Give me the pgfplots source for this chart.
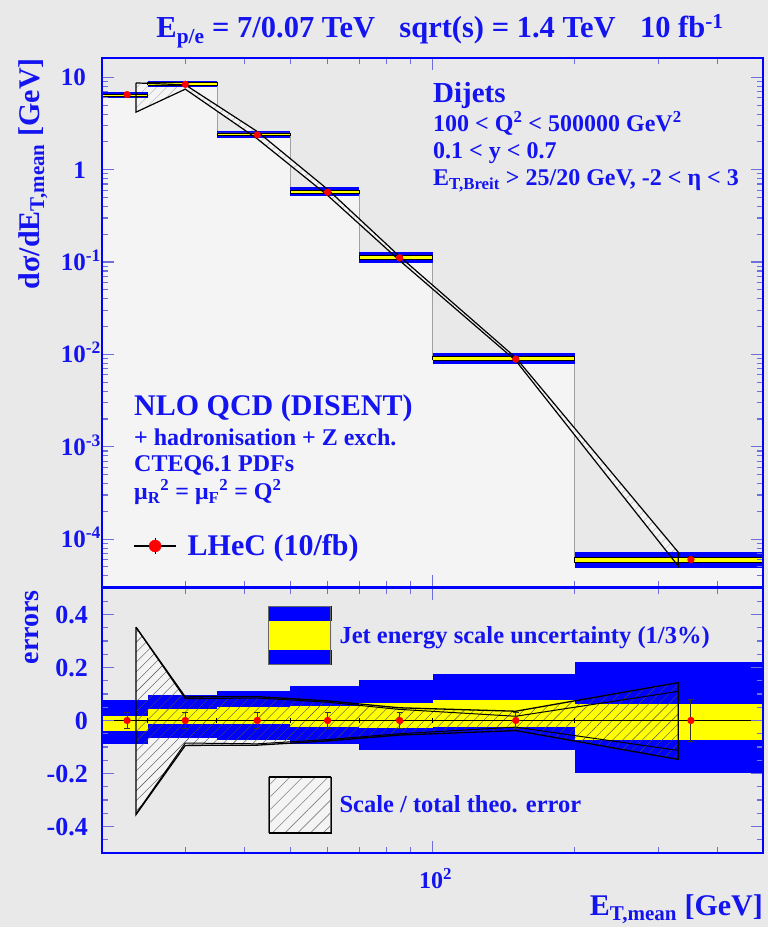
\documentclass[border=0pt]{standalone}
\usepackage{fontspec}
\setmainfont{Liberation Serif}
\usepackage{pgfplots}
\pgfplotsset{compat=1.18}
\usetikzlibrary{patterns.meta}
\definecolor{bg}{RGB}{233,233,233}
\definecolor{hfill}{RGB}{244,244,244}
\definecolor{rblue}{RGB}{0,0,255}
\definecolor{tblue}{RGB}{20,20,240}
\definecolor{ryel}{RGB}{255,255,0}
\definecolor{hgray}{RGB}{160,160,160}
\newcommand\fs[1]{\fontsize{#1bp}{#1bp}\selectfont\bfseries}
\newcommand\band[5]{\addplot[fill=#5,draw=none,forget plot] coordinates {(#1,#3) (#2,#3) (#2,#4) (#1,#4)};}
\newcommand\bandk[4]{\addplot[fill=ryel,draw=black,line width=0.7bp,forget plot] coordinates {(#1,#3) (#2,#3) (#2,#4) (#1,#4) (#1,#3)};}
\begin{document}
\begin{tikzpicture}
\fill[bg] (0,0) rectangle (768bp,927bp);
% ---------------- top panel
\begin{axis}[scale only axis, width=661bp, height=529bp, at={(102bp,340bp)}, anchor=south west,
  xmode=log, ymode=log, xmin=20, xmax=500, ymin=3.03e-5, ymax=16.2,
  axis on top,
  axis line style={draw=rblue,line width=1.5bp},
  tick align=inside, major tick length=12bp, minor tick length=6bp,
  tick style={draw={rgb,255:red,110;green,110;blue,220},line width=1bp},
  xtick={100}, minor xtick={30,40,50,60,70,80,90,200,300,400},
  xticklabel=\empty,
  ytick={1e-4,1e-3,1e-2,1e-1,1,10},
  yticklabels={10\rlap{\textsuperscript{-4}},10\rlap{\textsuperscript{-3}},10\rlap{\textsuperscript{-2}},10\rlap{\textsuperscript{-1}},1,10},
  minor ytick={4e-5,5e-5,6e-5,7e-5,8e-5,9e-5,2e-4,3e-4,4e-4,5e-4,6e-4,7e-4,8e-4,9e-4,2e-3,3e-3,4e-3,5e-3,6e-3,7e-3,8e-3,9e-3,0.02,0.03,0.04,0.05,0.06,0.07,0.08,0.09,0.2,0.3,0.4,0.5,0.6,0.7,0.8,0.9,2,3,4,5,6,7,8,9},
  yticklabel style={font=\fs{25}, text=tblue, anchor=base east, inner sep=0pt, xshift=-16bp, yshift=-8.5bp},
  legend style={at={(0.0474,0.0775)}, anchor=west, draw=none, fill=none, inner sep=0pt, font=\fs{30}, text=tblue, cells={anchor=west}, /tikz/every odd column/.append style={column sep=9bp}},
  legend cell align=left]
% histogram
\addplot[fill=hfill, draw=hgray, line width=0.8bp, forget plot] coordinates {(20,3.03e-5) (20,6.5) (25,6.5) (25,8.4) (35,8.4) (35,2.38) (50,2.38) (50,0.571) (70,0.571) (70,0.111) (100,0.111) (100,0.0089) (200,0.0089) (200,6e-5) (500,6e-5) (500,3.03e-5)};
% theory band
\addplot[fill=hfill, draw=none, forget plot] coordinates {(23.6,8.7) (30,8.3) (42.6,2.59) (60,0.613) (85,0.1163) (150,0.00921) (331,7.2e-5) (331,5.1e-5) (150,0.00856) (85,0.1049) (60,0.527) (42.6,2.16) (30,7.45) (23.6,4.2)};
\addplot[pattern={Lines[angle=45,distance=7bp,line width=0.4bp]}, pattern color=gray!60, draw=none, forget plot] coordinates {(23.6,8.7) (30,8.3) (42.6,2.59) (60,0.613) (85,0.1163) (150,0.00921) (331,7.2e-5) (331,5.1e-5) (150,0.00856) (85,0.1049) (60,0.527) (42.6,2.16) (30,7.45) (23.6,4.2)};
% JES bands
\band{20}{25}{5.93}{7.0}{rblue}
\band{25}{35}{7.85}{9.22}{rblue}
\band{35}{50}{2.21}{2.65}{rblue}
\band{50}{70}{0.521}{0.646}{rblue}
\band{70}{100}{0.0988}{0.1279}{rblue}
\band{100}{200}{0.0079}{0.01048}{rblue}
\band{200}{500}{4.81e-5}{7.33e-5}{rblue}
\bandk{20}{25}{6.24}{6.60}
\bandk{25}{35}{8.29}{8.78}
\bandk{35}{50}{2.35}{2.50}
\bandk{50}{70}{0.557}{0.602}
\bandk{70}{100}{0.1079}{0.1183}
\bandk{100}{200}{0.00868}{0.00959}
\bandk{200}{500}{5.56e-5}{6.38e-5}
% theory lines
\addplot[black, line width=1.2bp, forget plot] coordinates {(23.6,8.7) (30,8.3) (42.6,2.59) (60,0.613) (85,0.1163) (150,0.00921) (331,7.2e-5) (331,5.1e-5) (150,0.00856) (85,0.1049) (60,0.527) (42.6,2.16) (30,7.45) (23.6,4.2) (23.6,8.7)};
% axis ticks (drawn as short segments)
\addplot[draw={rgb,255:red,110;green,110;blue,220}, line width=1.1bp, unbounded coords=jump, forget plot] coordinates {
(30,16.2) (30,13.95) (30,nan) (40,16.2) (40,13.95) (40,nan) (50,16.2) (50,13.95) (50,nan) (60,16.2) (60,13.95) (60,nan) (70,16.2) (70,13.95) (70,nan) (80,16.2) (80,13.95) (80,nan) (90,16.2) (90,13.95) (90,nan) (200,16.2) (200,13.95) (200,nan) (300,16.2) (300,13.95) (300,nan) (400,16.2) (400,13.95) (400,nan) (100,16.2) (100,12.01) (100,nan)
(30,3.03e-5) (30,3.518e-5) (30,nan) (40,3.03e-5) (40,3.518e-5) (40,nan) (50,3.03e-5) (50,3.518e-5) (50,nan) (60,3.03e-5) (60,3.518e-5) (60,nan) (70,3.03e-5) (70,3.518e-5) (70,nan) (80,3.03e-5) (80,3.518e-5) (80,nan) (90,3.03e-5) (90,3.518e-5) (90,nan) (200,3.03e-5) (200,3.518e-5) (200,nan) (300,3.03e-5) (300,3.518e-5) (300,nan) (400,3.03e-5) (400,3.518e-5) (400,nan) (100,3.03e-5) (100,4.086e-5) (100,nan)
(20,1e-4) (21.21,1e-4) (20,nan) (20,1e-3) (21.21,1e-3) (20,nan) (20,0.01) (21.21,0.01) (20,nan) (20,0.1) (21.21,0.1) (20,nan) (20,1) (21.21,1) (20,nan) (20,10) (21.21,10) (20,nan)
(500,1e-4) (471.6,1e-4) (500,nan) (500,1e-3) (471.6,1e-3) (500,nan) (500,0.01) (471.6,0.01) (500,nan) (500,0.1) (471.6,0.1) (500,nan) (500,1) (471.6,1) (500,nan) (500,10) (471.6,10) (500,nan)
(20,4e-5) (20.59,4e-5) (20,nan) (20,5e-5) (20.59,5e-5) (20,nan) (20,6e-5) (20.59,6e-5) (20,nan) (20,7e-5) (20.59,7e-5) (20,nan) (20,8e-5) (20.59,8e-5) (20,nan) (20,9e-5) (20.59,9e-5) (20,nan)
(20,2e-4) (20.59,2e-4) (20,nan) (20,3e-4) (20.59,3e-4) (20,nan) (20,4e-4) (20.59,4e-4) (20,nan) (20,5e-4) (20.59,5e-4) (20,nan) (20,6e-4) (20.59,6e-4) (20,nan) (20,7e-4) (20.59,7e-4) (20,nan) (20,8e-4) (20.59,8e-4) (20,nan) (20,9e-4) (20.59,9e-4) (20,nan)
(20,2e-3) (20.59,2e-3) (20,nan) (20,3e-3) (20.59,3e-3) (20,nan) (20,4e-3) (20.59,4e-3) (20,nan) (20,5e-3) (20.59,5e-3) (20,nan) (20,6e-3) (20.59,6e-3) (20,nan) (20,7e-3) (20.59,7e-3) (20,nan) (20,8e-3) (20.59,8e-3) (20,nan) (20,9e-3) (20.59,9e-3) (20,nan)
(20,0.02) (20.59,0.02) (20,nan) (20,0.03) (20.59,0.03) (20,nan) (20,0.04) (20.59,0.04) (20,nan) (20,0.05) (20.59,0.05) (20,nan) (20,0.06) (20.59,0.06) (20,nan) (20,0.07) (20.59,0.07) (20,nan) (20,0.08) (20.59,0.08) (20,nan) (20,0.09) (20.59,0.09) (20,nan)
(20,0.2) (20.59,0.2) (20,nan) (20,0.3) (20.59,0.3) (20,nan) (20,0.4) (20.59,0.4) (20,nan) (20,0.5) (20.59,0.5) (20,nan) (20,0.6) (20.59,0.6) (20,nan) (20,0.7) (20.59,0.7) (20,nan) (20,0.8) (20.59,0.8) (20,nan) (20,0.9) (20.59,0.9) (20,nan)
(20,2) (20.59,2) (20,nan) (20,3) (20.59,3) (20,nan) (20,4) (20.59,4) (20,nan) (20,5) (20.59,5) (20,nan) (20,6) (20.59,6) (20,nan) (20,7) (20.59,7) (20,nan) (20,8) (20.59,8) (20,nan) (20,9) (20.59,9) (20,nan)
(500,4e-5) (485.6,4e-5) (500,nan) (500,5e-5) (485.6,5e-5) (500,nan) (500,6e-5) (485.6,6e-5) (500,nan) (500,7e-5) (485.6,7e-5) (500,nan) (500,8e-5) (485.6,8e-5) (500,nan) (500,9e-5) (485.6,9e-5) (500,nan)
(500,2e-4) (485.6,2e-4) (500,nan) (500,3e-4) (485.6,3e-4) (500,nan) (500,4e-4) (485.6,4e-4) (500,nan) (500,5e-4) (485.6,5e-4) (500,nan) (500,6e-4) (485.6,6e-4) (500,nan) (500,7e-4) (485.6,7e-4) (500,nan) (500,8e-4) (485.6,8e-4) (500,nan) (500,9e-4) (485.6,9e-4) (500,nan)
(500,2e-3) (485.6,2e-3) (500,nan) (500,3e-3) (485.6,3e-3) (500,nan) (500,4e-3) (485.6,4e-3) (500,nan) (500,5e-3) (485.6,5e-3) (500,nan) (500,6e-3) (485.6,6e-3) (500,nan) (500,7e-3) (485.6,7e-3) (500,nan) (500,8e-3) (485.6,8e-3) (500,nan) (500,9e-3) (485.6,9e-3) (500,nan)
(500,0.02) (485.6,0.02) (500,nan) (500,0.03) (485.6,0.03) (500,nan) (500,0.04) (485.6,0.04) (500,nan) (500,0.05) (485.6,0.05) (500,nan) (500,0.06) (485.6,0.06) (500,nan) (500,0.07) (485.6,0.07) (500,nan) (500,0.08) (485.6,0.08) (500,nan) (500,0.09) (485.6,0.09) (500,nan)
(500,0.2) (485.6,0.2) (500,nan) (500,0.3) (485.6,0.3) (500,nan) (500,0.4) (485.6,0.4) (500,nan) (500,0.5) (485.6,0.5) (500,nan) (500,0.6) (485.6,0.6) (500,nan) (500,0.7) (485.6,0.7) (500,nan) (500,0.8) (485.6,0.8) (500,nan) (500,0.9) (485.6,0.9) (500,nan)
(500,2) (485.6,2) (500,nan) (500,3) (485.6,3) (500,nan) (500,4) (485.6,4) (500,nan) (500,5) (485.6,5) (500,nan) (500,6) (485.6,6) (500,nan) (500,7) (485.6,7) (500,nan) (500,8) (485.6,8) (500,nan) (500,9) (485.6,9)};
% data
\addplot[only marks, mark=*, mark size=3.4bp, mark options={fill=red, draw=red},
  legend image code/.code={\draw[black,line width=1.2bp] (0bp,0bp)--(42bp,0bp); \draw[black,line width=1.2bp] (21bp,-8bp)--(21bp,8bp); \fill[red] (21bp,0bp) circle (6bp);},
  error bars/.cd, y dir=both, y explicit, error bar style={black,line width=1bp}, error mark options={rotate=90,black,mark size=3bp,line width=1bp}]
  coordinates {(22.6,6.5) +- (0,0.195) (30,8.4) +- (0,0.25) (42.6,2.38) +- (0,0.071) (60,0.571) +- (0,0.017) (85.2,0.111) +- (0,0.0033) (150,0.0089) +- (0,0.00027) (352,6e-5) +- (0,4.7e-6)};
\addlegendentry{LHeC (10/fb)}
\end{axis}
% ---------------- bottom panel
\begin{axis}[scale only axis, width=661bp, height=265bp, at={(102bp,74bp)}, anchor=south west,
  xmode=log, xmin=20, xmax=500, ymin=-0.5, ymax=0.5,
  axis on top,
  axis line style={draw=rblue,line width=1.5bp},
  tick align=inside, major tick length=12bp, minor tick length=6bp,
  tick style={draw={rgb,255:red,110;green,110;blue,220},line width=1bp},
  xtick={100}, minor xtick={30,40,50,60,70,80,90,200,300,400},
  xticklabels={10\textsuperscript{2}},
  xticklabel style={font=\fs{24}, text=tblue, anchor=base, inner sep=0pt, yshift=-35bp, xshift=3bp},
  ytick={-0.4,-0.2,0,0.2,0.4}, yticklabels={-0.4,-0.2,0,0.2,0.4},
  minor ytick={-0.45,-0.35,-0.3,-0.25,-0.15,-0.1,-0.05,0.05,0.1,0.15,0.25,0.3,0.35,0.45},
  yticklabel style={font=\fs{26}, text=tblue, anchor=base east, inner sep=0pt, xshift=-14bp, yshift=-9bp},
  legend style={at={(0.2507,0.9332)}, anchor=north west, draw=none, fill=none, inner sep=0pt, font=\fs{24.5}, text=tblue, row sep=111bp, cells={anchor=west}, /tikz/every odd column/.append style={column sep=6bp}},
  legend cell align=left]
\addplot[fill=hfill, draw=none, forget plot] coordinates {(23.6,0.352) (30,0.089) (42.6,0.090) (60,0.074) (85,0.048) (150,0.035) (331,0.143) (331,-0.147) (150,-0.038) (85,-0.055) (60,-0.077) (42.6,-0.093) (30,-0.094) (23.6,-0.355)};
\band{20}{25}{-0.087}{0.077}{rblue}
\band{25}{35}{-0.066}{0.098}{rblue}
\band{35}{50}{-0.072}{0.113}{rblue}
\band{50}{70}{-0.087}{0.132}{rblue}
\band{70}{100}{-0.110}{0.152}{rblue}
\band{100}{200}{-0.112}{0.177}{rblue}
\band{200}{500}{-0.198}{0.221}{rblue}
\band{20}{25}{-0.040}{0.016}{ryel}
\band{25}{35}{-0.013}{0.045}{ryel}
\band{35}{50}{-0.013}{0.050}{ryel}
\band{50}{70}{-0.024}{0.054}{ryel}
\band{70}{100}{-0.028}{0.066}{ryel}
\band{100}{200}{-0.025}{0.077}{ryel}
\band{200}{500}{-0.074}{0.063}{ryel}
\addplot[pattern={Lines[angle=45,distance=7bp,line width=0.4bp]}, pattern color=black!70, fill opacity=0.3, draw=none, forget plot] coordinates {(23.6,0.352) (30,0.089) (42.6,0.090) (60,0.074) (85,0.048) (150,0.035) (331,0.143) (331,-0.147) (150,-0.038) (85,-0.055) (60,-0.077) (42.6,-0.093) (30,-0.094) (23.6,-0.355)};
\addplot[black, line width=1.3bp, forget plot] coordinates {(23.6,0.352) (30,0.089) (42.6,0.090) (60,0.074) (85,0.048) (150,0.035) (331,0.143) (331,-0.147) (150,-0.038) (85,-0.055) (60,-0.077) (42.6,-0.093) (30,-0.094) (23.6,-0.355) (23.6,0.352)};
\addplot[black, line width=1bp, forget plot] coordinates {(23.6,0.352) (30,0.082) (42.6,0.085) (60,0.069) (85,0.042) (150,0.016) (331,0.110)};
\addplot[black, line width=1bp, forget plot] coordinates {(23.6,-0.352) (30,-0.085) (42.6,-0.088) (60,-0.072) (85,-0.050) (150,-0.025) (331,-0.113)};
\addplot[black, line width=1bp, forget plot] coordinates {(20,0) (500,0)};
\addplot[ycomb, black, line width=1bp, forget plot] coordinates {(25,0.01) (35,0.01) (50,0.01) (70,0.01) (100,0.01) (200,0.01)};
\addplot[ycomb, black, line width=1bp, forget plot] coordinates {(25,-0.01) (35,-0.01) (50,-0.01) (70,-0.01) (100,-0.01) (200,-0.01)};
\addplot[only marks, mark=*, mark size=3.4bp, mark options={fill=red, draw=red}, forget plot,
  error bars/.cd, y dir=both, y explicit, error bar style={black!80,line width=1bp}, error mark options={rotate=90,black!80,mark size=3bp,line width=1bp}]
  coordinates {(22.6,0) +- (0,0.03) (30,0) +- (0,0.03) (42.6,0) +- (0,0.03) (60,0) +- (0,0.03) (85.2,0) +- (0,0.03) (150,0) +- (0,0.032) (352,0) +- (0,0.078)};
% axis ticks (drawn as short segments)
\addplot[draw={rgb,255:red,110;green,110;blue,220}, line width=1.1bp, unbounded coords=jump, forget plot] coordinates {
(30,0.5) (30,0.4774) (30,nan) (40,0.5) (40,0.4774) (40,nan) (50,0.5) (50,0.4774) (50,nan) (60,0.5) (60,0.4774) (60,nan) (70,0.5) (70,0.4774) (70,nan) (80,0.5) (80,0.4774) (80,nan) (90,0.5) (90,0.4774) (90,nan) (200,0.5) (200,0.4774) (200,nan) (300,0.5) (300,0.4774) (300,nan) (400,0.5) (400,0.4774) (400,nan) (100,0.5) (100,0.4547) (100,nan)
(30,-0.5) (30,-0.4774) (30,nan) (40,-0.5) (40,-0.4774) (40,nan) (50,-0.5) (50,-0.4774) (50,nan) (60,-0.5) (60,-0.4774) (60,nan) (70,-0.5) (70,-0.4774) (70,nan) (80,-0.5) (80,-0.4774) (80,nan) (90,-0.5) (90,-0.4774) (90,nan) (200,-0.5) (200,-0.4774) (200,nan) (300,-0.5) (300,-0.4774) (300,nan) (400,-0.5) (400,-0.4774) (400,nan) (100,-0.5) (100,-0.4547) (100,nan)
(20,-0.4) (21.21,-0.4) (20,nan) (20,-0.2) (21.21,-0.2) (20,nan) (20,0) (21.21,0) (20,nan) (20,0.2) (21.21,0.2) (20,nan) (20,0.4) (21.21,0.4) (20,nan)
(500,-0.4) (471.6,-0.4) (500,nan) (500,-0.2) (471.6,-0.2) (500,nan) (500,0) (471.6,0) (500,nan) (500,0.2) (471.6,0.2) (500,nan) (500,0.4) (471.6,0.4) (500,nan)
(20,-0.45) (20.59,-0.45) (20,nan) (20,-0.35) (20.59,-0.35) (20,nan) (20,-0.3) (20.59,-0.3) (20,nan) (20,-0.25) (20.59,-0.25) (20,nan) (20,-0.15) (20.59,-0.15) (20,nan) (20,-0.1) (20.59,-0.1) (20,nan) (20,-0.05) (20.59,-0.05) (20,nan)
(20,0.05) (20.59,0.05) (20,nan) (20,0.1) (20.59,0.1) (20,nan) (20,0.15) (20.59,0.15) (20,nan) (20,0.25) (20.59,0.25) (20,nan) (20,0.3) (20.59,0.3) (20,nan) (20,0.35) (20.59,0.35) (20,nan) (20,0.45) (20.59,0.45) (20,nan)
(500,-0.45) (485.6,-0.45) (500,nan) (500,-0.35) (485.6,-0.35) (500,nan) (500,-0.3) (485.6,-0.3) (500,nan) (500,-0.25) (485.6,-0.25) (500,nan) (500,-0.15) (485.6,-0.15) (500,nan) (500,-0.1) (485.6,-0.1) (500,nan) (500,-0.05) (485.6,-0.05) (500,nan)
(500,0.05) (485.6,0.05) (500,nan) (500,0.1) (485.6,0.1) (500,nan) (500,0.15) (485.6,0.15) (500,nan) (500,0.25) (485.6,0.25) (500,nan) (500,0.3) (485.6,0.3) (500,nan) (500,0.35) (485.6,0.35) (500,nan) (500,0.45) (485.6,0.45)};
\addlegendimage{legend image code/.code={\fill[rblue] (0bp,-29bp) rectangle (62bp,29bp); \fill[ryel] (0bp,-14.2bp) rectangle (62bp,14.2bp); \draw[black!60,line width=1bp] (0bp,-29bp) rectangle (62bp,29bp);}}
\addlegendentry{Jet energy scale uncertainty (1/3\%)}
\addlegendimage{legend image code/.code={\fill[hfill] (0bp,-28bp) rectangle (62bp,28bp); \fill[pattern={Lines[angle=45,distance=9bp,line width=0.6bp]},pattern color=gray] (0bp,-28bp) rectangle (62bp,28bp); \draw[black!60,line width=1bp] (0bp,-28bp)--(0bp,28bp) (62bp,-28bp)--(62bp,28bp); \draw[black,line width=1.6bp] (0bp,-28bp)--(62bp,-28bp) (0bp,28bp)--(62bp,28bp);}}
\addlegendentry{Scale / total theo. error}
\end{axis}
% ---------------- texts
\begin{scope}[every node/.style={inner sep=0pt, text=tblue}]
\node[anchor=base, font=\fs{30.5}] at (440bp,889bp) {E\textsubscript{p/e} = 7/0.07 TeV\hspace{0.8em}sqrt(s) = 1.4 TeV\hspace{0.8em}10 fb\textsuperscript{-1}};
\node[anchor=base west, font=\fs{29}] at (433bp,824.3bp) {Dijets};
\node[anchor=base west, font=\fs{24}] at (433bp,795.3bp) {100 < Q\textsuperscript{2} < 500000 GeV\textsuperscript{2}};
\node[anchor=base west, font=\fs{24}] at (433bp,768bp) {0.1 < y < 0.7};
\node[anchor=base west, font=\fs{24}] at (433bp,741bp) {E\textsubscript{T,Breit} > 25/20 GeV, -2 < η < 3};
\node[anchor=base west, font=\fs{30}] at (134bp,511.3bp) {NLO QCD (DISENT)};
\node[anchor=base west, font=\fs{24}] at (134bp,481.3bp) {+ hadronisation + Z exch.};
\node[anchor=base west, font=\fs{24}] at (134bp,455bp) {CTEQ6.1 PDFs};
\node[anchor=base west, font=\fs{24}] at (134bp,427.5bp) {μ\textsubscript{R}\textsuperscript{2} = μ\textsubscript{F}\textsuperscript{2} = Q\textsuperscript{2}};
\node[rotate=90, anchor=base east, font=\fs{30}] at (39bp,869bp) {dσ/dE\textsubscript{T,mean} [GeV]};
\node[rotate=90, anchor=base east, font=\fs{28}] at (38bp,337bp) {errors};
\node[anchor=base east, font=\fs{30}] at (763bp,12bp) {E\textsubscript{T,mean} [GeV]};
\end{scope}
\pgfresetboundingbox
\path (0,0) rectangle (768bp,927bp);
\end{tikzpicture}
\end{document}
